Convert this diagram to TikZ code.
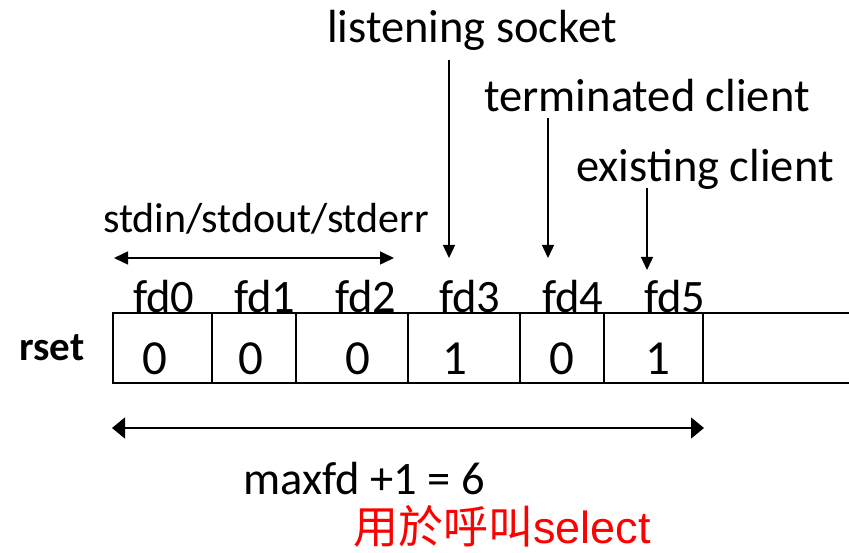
\documentclass[tikz,border=0pt]{standalone}
\usepackage{fontspec}
\setmainfont{Carlito}
\newfontfamily\cjkfont{Noto Sans CJK TC}
\newfontfamily\arialfont{Liberation Sans}
\usetikzlibrary{arrows.meta}
\tikzset{
  big/.style={font=\fontsize{46.5}{50}\selectfont, inner sep=0pt},
  digit/.style={font=\fontsize{49}{52}\selectfont, inner sep=0pt},
  mid/.style={font=\fontsize{42}{45}\selectfont, inner sep=0pt},
  cellline/.style={line width=1.3pt},
  ptr/.style={line width=1.4pt, -{Triangle[length=13pt,width=12pt]}},
  span/.style={line width=1.5pt, {Triangle[length=14pt,width=13pt]}-{Triangle[length=14pt,width=13pt]}},
  bigspan/.style={line width=1.6pt, {Triangle[length=13pt,width=21pt]}-{Triangle[length=13pt,width=21pt]}},
}
\begin{document}
\begin{tikzpicture}[x=1pt,y=-1pt]
\useasboundingbox (0,0) rectangle (849,553);
% bit array
\draw[cellline] (849,313) -- (113,313) -- (113,383) -- (849,383);
\foreach \x in {212,296,408,520,604,703} \draw[cellline] (\x,313) -- (\x,383);
% values
\node[digit, anchor=base] (v0) at (155,374) {0};
\node[digit, anchor=base] (v1) at (251,374) {0};
\node[digit, anchor=base] (v2) at (358,374) {0};
\node[digit, anchor=base] (v3) at (455,374) {1};
\node[digit, anchor=base] (v4) at (562,374) {0};
\node[digit, anchor=base] (v5) at (658,374) {1};
% fd labels
\node[big, anchor=base] (f0) at (164,313) {fd0};
\node[big, anchor=base] (f1) at (265,313) {fd1};
\node[big, anchor=base] (f2) at (366,313) {fd2};
\node[big, anchor=base] (f3) at (470,313) {fd3};
\node[big, anchor=base] (f4) at (573,313) {fd4};
\node[big, anchor=base] (f5) at (675,313) {fd5};
% rset
\node[font=\fontsize{41}{44}\selectfont\bfseries, inner sep=0pt, anchor=base] (rset) at (52,360) {rset};
% top labels
\node[big, anchor=base] (ls) at (472,43) {listening socket};
\node[big, anchor=base] (tc) at (647,112) {terminated client};
\node[big, anchor=base] (ec) at (705,182) {existing client};
\node[mid, anchor=base] (sd) at (266,233) {stdin/stdout/stderr};
% pointer arrows
\coordinate (lsA) at (449,60);  \coordinate (lsB) at (449,258);
\coordinate (tcA) at (548,118); \coordinate (tcB) at (548,258);
\coordinate (ecA) at (647,188); \coordinate (ecB) at (647,270);
\draw[ptr] (lsA) -- (lsB);
\draw[ptr] (tcA) -- (tcB);
\draw[ptr] (ecA) -- (ecB);
% stdin span
\coordinate (sdL) at (114,258); \coordinate (sdR) at (394,258);
\draw[span] (sdL) -- (sdR);
% maxfd span
\coordinate (mL) at (112,428); \coordinate (mR) at (704,428);
\draw[bigspan] (mL) -- (mR);
\node[big, anchor=base] (mx) at (364,494) {maxfd +1 = 6};
\node[inner sep=0pt, anchor=base, text=red] (sel) at (502,543) {\fontsize{45}{48}\selectfont\cjkfont 用於呼叫\arialfont select};
\end{tikzpicture}
\end{document}
